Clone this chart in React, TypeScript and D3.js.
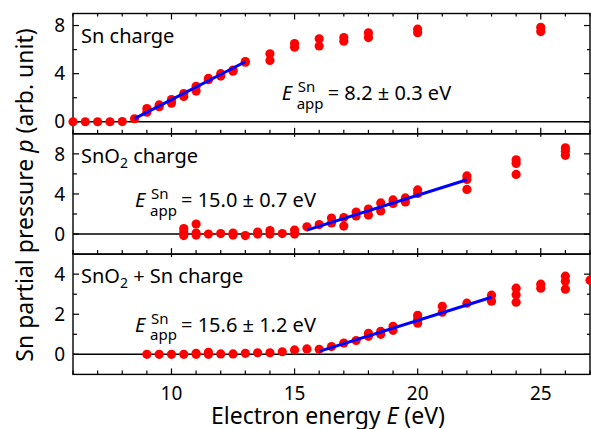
import React from "react";
import * as d3 from "d3";

// Sn charge
const snEnergy = [6, 6.5, 7, 7.5, 8, 8.5, 9, 9.5, 10, 10.5, 11, 11.5, 12, 12.5, 13, 14, 15, 16, 17, 18, 20, 25];
const snPressure = [
  [0], [0], [0], [0], [0.02], [0.25], [0.8, 1.1], [1.25, 1.4], [1.55, 1.85], [2.1, 2.35], [2.55, 2.95],
  [3.5, 3.6], [3.8, 4.0], [4.2, 4.3], [4.95, 5.0], [5.1, 5.65], [6.2, 6.5], [6.3, 6.9], [6.7, 7.0],
  [7.0, 7.4], [7.4, 7.7], [7.5, 7.85],
];
const snFitE = [8.5, 13];
const snFitP = [0.26, 4.99];

// SnO2 charge
const sno2Energy = [10.5, 11, 11.5, 12, 12.5, 13, 13.5, 14, 14.5, 15, 15.5, 16, 16.5, 17, 17.5, 18, 18.5, 19, 19.5, 20, 22, 24, 26];
const sno2Pressure = [
  [-0.15, 0.2, 0.55], [1.0, 0.1, -0.1], [0.0], [0.05], [-0.1, 0.1], [-0.15], [0.0, 0.2], [0.0, 0.35],
  [0.05], [0.0, 0.4], [0.72], [0.95], [1.1, 1.6], [0.8, 1.65], [1.8, 2.2], [1.9, 2.5], [2.3, 3.1],
  [3.05, 3.4], [3.2, 3.6], [4.05, 4.4], [4.45, 5.45, 5.8], [5.95, 7.05, 7.4], [7.85, 8.25, 8.6],
];
const sno2FitE = [15.5, 22];
const sno2FitP = [0.39, 5.42];

// SnO2 + Sn charge
const mixEnergy = [9, 9.5, 10, 10.5, 11, 11.5, 12, 12.5, 13, 13.5, 14, 14.5, 15, 15.5, 16, 16.5, 17, 17.5, 18, 18.5, 19, 20, 21, 22, 23, 24, 25, 26, 27];
const mixPressure = [
  [0], [0], [0], [0], [0, 0.05], [0, 0.1], [0.02], [0.02], [0.05], [0.08], [0.08], [0.13], [0.22], [0.27],
  [0.25], [0.39], [0.56], [0.69], [0.9, 1.05], [1.0, 1.15], [1.2, 1.4], [1.55, 1.75, 1.95], [2.1, 2.4],
  [2.55], [2.65, 2.95], [2.6, 2.97, 3.3], [3.3, 3.5], [3.25, 3.65, 3.9], [3.7],
];
const mixFitE = [16, 23];
const mixFitP = [0.15, 2.85];

const fitLabels = ["8.2 \u00B1 0.3", "15.0 \u00B1 0.7", "15.6 \u00B1 1.2"];
const xTicks = [10, 15, 20, 25];
const yTicks = [[0, 4, 8], [0, 4, 8], [0, 2, 4]];
const yMinor = [[2, 6], [2, 6], [1, 3]];
const yDomains: [number, number][] = [[-1, 9], [-2, 10], [-1, 5]];

const font = "'Noto Sans', sans-serif";
const W = 591;
const H = 429;
const left = 73;
const right = 590;
const top = 13.5;
const ph = 120.3;

const x = d3.scaleLinear().domain([6, 27]).range([left, right]);

const panels = [
  { energy: snEnergy, pressure: snPressure, fitE: snFitE, fitP: snFitP, ann: [281.7, 100] },
  { energy: sno2Energy, pressure: sno2Pressure, fitE: sno2FitE, fitP: sno2FitP, ann: [135, 207] },
  { energy: mixEnergy, pressure: mixPressure, fitE: mixFitE, fitP: mixFitP, ann: [135, 331.7] },
];

function Title({ i, yPos }: { i: number; yPos: number }) {
  const common = { x: 81, y: yPos, fontSize: 20, fontFamily: font, fill: "#000" };
  if (i === 0) return <text {...common}>Sn charge</text>;
  return (
    <text {...common}>
      SnO
      <tspan fontSize={14} dy={5}>2</tspan>
      <tspan dy={-5}>{i === 1 ? " charge" : " + Sn charge"}</tspan>
    </text>
  );
}

export default function App() {
  const minorX = d3.range(6, 28, 1);
  return (
    <svg width={W} height={H} style={{ position: "absolute", left: 0, top: 0 }} fontFamily={font}>
      <rect width={W} height={H} fill="#fff" />
      {panels.map((p, i) => {
        const y0 = top + i * ph;
        const y1 = y0 + ph;
        const y = d3.scaleLinear().domain(yDomains[i]).range([y1, y0]);
        const fit = d3.line<number>().x((e) => x(e)).y((_, k) => y(p.fitP[k]));
        const pts = p.energy.flatMap((e, k) => p.pressure[k].map((v) => [e, v]));
        const [ax, ay] = p.ann;
        return (
          <g key={i}>
            <line x1={left} x2={right} y1={y(0)} y2={y(0)} stroke="#000" strokeWidth={1.5} />
            {/* frame ticks */}
            {minorX.map((t) => {
              const major = t % 5 === 0;
              const lenB = major ? 6 : 4;
              const lenT = i === 0 ? (major ? 6 : 3) : major ? 3 : 0;
              return (
                <g key={t} stroke="#000" strokeWidth={1.2}>
                  <line x1={x(t)} x2={x(t)} y1={y1} y2={y1 - lenB} />
                  {lenT > 0 && <line x1={x(t)} x2={x(t)} y1={y0} y2={y0 + lenT} />}
                </g>
              );
            })}
            {yTicks[i].map((t) => (
              <g key={"m" + t} stroke="#000" strokeWidth={1.2}>
                <line x1={left} x2={left + 6} y1={y(t)} y2={y(t)} />
                <line x1={right} x2={right - 6} y1={y(t)} y2={y(t)} />
              </g>
            ))}
            {yMinor[i].map((t) => (
              <g key={"n" + t} stroke="#000" strokeWidth={1.2}>
                <line x1={left} x2={left + 4} y1={y(t)} y2={y(t)} />
                <line x1={right} x2={right - 3} y1={y(t)} y2={y(t)} />
              </g>
            ))}
            {yTicks[i].map((t) => (
              <text key={"l" + t} x={65} y={y(t)} dy="0.35em" textAnchor="end" fontSize={19} fill="#000">
                {t}
              </text>
            ))}
            <rect x={left} y={y0} width={right - left} height={ph} fill="none" stroke="#000" strokeWidth={1.4} />
            {pts.map(([e, v], k) => (
              <circle key={k} cx={x(e)} cy={y(v)} r={4.6} fill="#ff0000" />
            ))}
            <path d={fit(p.fitE) || ""} fill="none" stroke="#0000ff" strokeWidth={3} />
            <Title i={i} yPos={y0 + 29.3} />
            <text x={ax} y={ay} fontSize={20} fontStyle="italic" fill="#000">E</text>
            <text x={ax + 16} y={ay - 8} fontSize={15} fill="#000">Sn</text>
            <text x={ax + 15} y={ay + 8.5} fontSize={15} fill="#000">app</text>
            <text x={ax + 46} y={ay} fontSize={20} fill="#000">= {fitLabels[i]} eV</text>
          </g>
        );
      })}
      {xTicks.map((t) => (
        <text key={t} x={x(t)} y={400} textAnchor="middle" fontSize={19} fill="#000">
          {t}
        </text>
      ))}
      <text x={328} y={424} textAnchor="middle" fontSize={23} fill="#000">
        Electron energy <tspan fontStyle="italic">E</tspan> (eV)
      </text>
      <text transform="translate(33,195) rotate(-90)" textAnchor="middle" fontSize={23} fill="#000">
        Sn partial pressure <tspan fontStyle="italic">p</tspan> (arb. unit)
      </text>
    </svg>
  );
}
